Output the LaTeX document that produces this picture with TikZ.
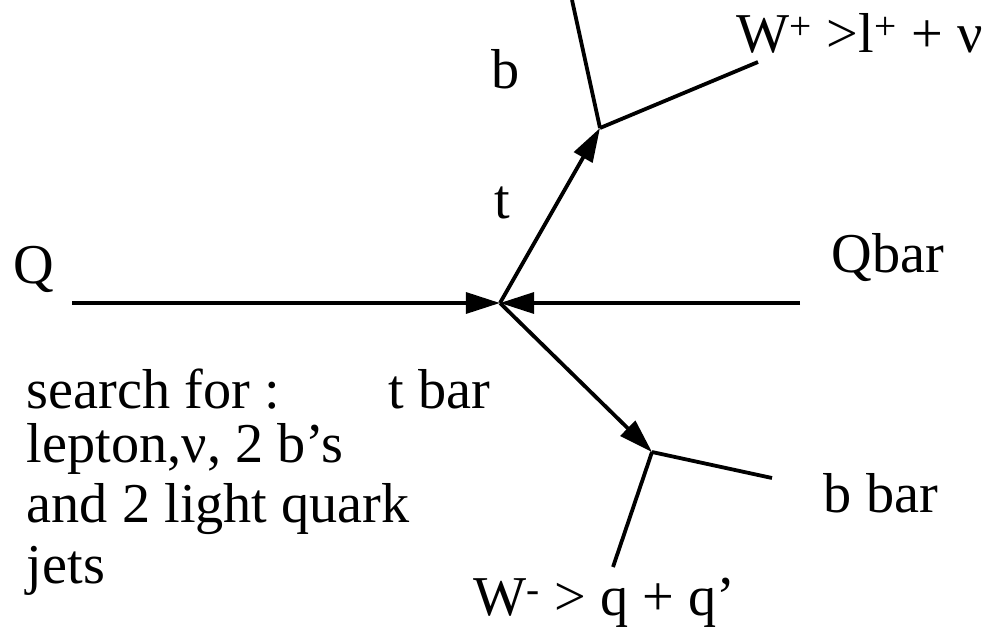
\documentclass[tikz,border=0pt]{standalone}
\usepackage{fontspec}
\setmainfont{Liberation Serif}
\usetikzlibrary{arrows.meta}

\begin{document}
\begin{tikzpicture}[x=0.025cm,y=-0.025cm,line width=2.7pt,
    lbl/.style={anchor=base west,inner sep=0pt,font=\fontsize{40}{48}\selectfont},
    prop/.style={-{Triangle[length=0.85cm,width=0.52cm]}}]
        \useasboundingbox (0,0) rectangle (987,638);

        % vertices and free ends
        \coordinate (qin) at (72,303);
        \coordinate (qbarin) at (800,303);
        \coordinate (vtx) at (500,303);
        \coordinate (tdec) at (600,128);
        \coordinate (bend) at (572,0);
        \coordinate (wpend) at (758,62);
        \coordinate (tbdec) at (652,452);
        \coordinate (bbend) at (772,478);
        \coordinate (wmend) at (613,567);

        \draw[prop] (qin) -- (vtx);
        \draw[prop] (qbarin) -- (vtx);
        \draw[prop] (vtx) -- (tdec);
        \draw[prop] (vtx) -- (tbdec);
        \draw (tdec) -- (bend);
        \draw (tdec) -- (wpend);
        \draw (tbdec) -- (bbend);
        \draw (tbdec) -- (wmend);

        % labels
        \node (q)[lbl] at (12,283) {Q};
        \node (qbar)[lbl] at (830,272) {Qbar};
        \node (t)[lbl] at (493,218) {t};
        \node (b)[lbl] at (490,88) {b};
        \node (wp)[lbl] at (735,52) {W\textsuperscript{+} >l\textsuperscript{+} + ν};
        \node (tbar)[lbl] at (387,408) {t bar};
        \node (bbar)[lbl] at (822,512) {b bar};
        \node (wm)[lbl] at (472,615) {W\textsuperscript{-} > q + q’};

        \node (s1)[lbl] at (25,408) {search for :};
        \node (s2)[lbl] at (25,462) {lepton,ν, 2 b’s};
        \node (s3)[lbl] at (25,522) {and 2 light quark};
        \node (s4)[lbl] at (25,583) {jets};

    \end{tikzpicture}
\end{document}
